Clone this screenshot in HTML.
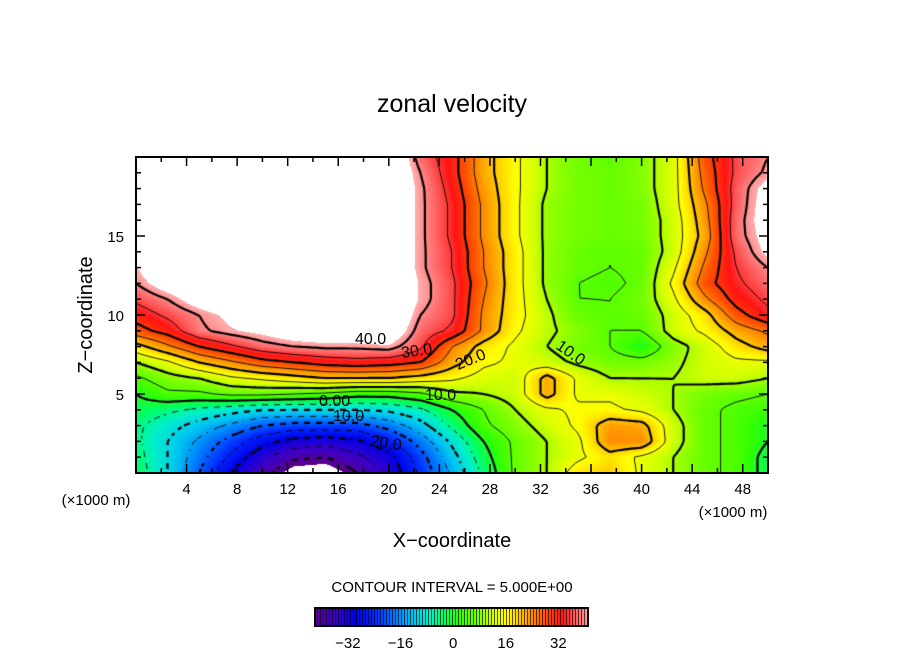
<!DOCTYPE html>
<html><head><meta charset="utf-8"><style>
html,body{margin:0;padding:0;background:#fff;}
#wrap{position:relative;width:904px;height:654px;overflow:hidden;font-family:"Liberation Sans",sans-serif;}
canvas{position:absolute;left:136px;top:157px;}
svg{position:absolute;left:0;top:0;}
</style></head><body>
<div id="wrap">
<canvas id="field" width="632" height="316"></canvas>
<svg id="ax" width="904" height="654">
<text x="452" y="112" font-size="25" text-anchor="middle">zonal velocity</text>
<text x="452" y="547" font-size="20" text-anchor="middle">X−coordinate</text>
<text transform="translate(92,315) rotate(-90)" font-size="20" text-anchor="middle">Z−coordinate</text>
<text x="96" y="505" font-size="15" text-anchor="middle">(×1000 m)</text>
<text x="733" y="517" font-size="15" text-anchor="middle">(×1000 m)</text>
<text x="452" y="592" font-size="15" text-anchor="middle">CONTOUR INTERVAL = 5.000E+00</text>
<g id="clabels" font-size="16" fill="#000">
<text x="355" y="344">40.0</text>
<text x="402" y="358" transform="rotate(-8 402 358)">30.0</text>
<text x="458" y="370" transform="rotate(-22 458 370)">20.0</text>
<text x="425" y="400">10.0</text>
<text x="319" y="406">0.00</text>
<text x="333" y="421">10.0</text>
<text x="370" y="446" transform="rotate(8 370 446)">20.0</text>
<text x="555" y="348" transform="rotate(35 555 348)">10.0</text>
</g>
</svg>
</div>
<script>
const uRows = [
[50,50,50,50,50,50,50,50,50,38,32,22,16,10,7,5,8,13,28,36,40],
[50,50,50,50,50,50,50,50,50,40,32,22,16,10,7,6,8,13,27,36,41],
[50,50,50,50,50,50,50,50,50,41,33,23,16,10,7,6,8,13,26,37,45],
[50,50,50,50,50,50,50,50,50,41,34,24,16,9,7,6,7,13,24,37,46],
[50,50,50,50,50,50,50,50,50,41,34,24,16,9,7,6,7,12,23,38,46],
[50,50,50,50,50,50,50,50,50,41,34,24,16,9,7,6,7,12,22,38,45],
[50,50,50,50,50,50,50,50,50,41,35,25,17,9,6,5,6,12,24,36,44],
[42,50,50,50,50,50,50,50,50,41,35,25,17,9,6,5,6,14,26,35,40],
[40,46,50,50,50,50,50,50,50,42,36,26,17,9,5,4,6,16,28,34,38],
[36,40,46,50,50,50,50,50,50,42,36,25,17,10,5,5,7,14,24,32,36],
[32,36,40,44,47,50,50,50,50,40,36,24,17,11,6,5,6,12,18,28,34],
[28,32,39,42,44,47,48,48,48,38,34,24,16,11,8,5,5,12,16,22,26],
[18,24,30,34,38,40,41,41,42,36,25,18,14,10,7,5,0,8,12,18,22],
[10,14,20,24,28,30,32,33,32,30,22,16,14,12,9,7,7,9,12,14,14],
[4,8,10,14,16,18,20,20,20,18,16,13,12,22,14,10,10,10,12,12,10],
[0,4,4,6,6,5,4,2,2,4,9,10,12,22,14,14,12,10,7,6,5],
[-2,-4,-6,-8,-10,-10,-10,-10,-9,-6,0,5,10,14,16,16,14,10,6,4,3],
[-4,-8,-12,-16,-20,-22,-22,-22,-18,-12,-4,4,8,12,16,23,22,12,6,4,0],
[-4,-10,-16,-22,-28,-32,-33,-31,-26,-18,-9,0,6,10,14,24,24,12,6,4,0],
[-3,-10,-18,-26,-34,-39,-40,-36,-32,-22,-12,-2,6,10,14,18,14,10,6,4,-2],
[-2,-10,-20,-30,-38,-45,-46,-40,-34,-24,-14,-4,6,10,18,20,14,10,6,4,-2]
];
const xTicks = [4,8,12,16,20,24,28,32,36,40,44,48];
const zTicks = [5,10,15];
const cbTicks = [-32,-16,0,16,32];
const levels = [-40,-35,-30,-25,-20,-15,-10,-5,0,5,10,15,20,25,30,35,40];

const X0=136,Y0=157,W=632,H=316,XMAX=50,ZMAX=20,DX=2.5,DZ=1;
function sx(x){return X0+x*W/XMAX;}
function sy(z){return Y0+H-z*H/ZMAX;}
const nCols=uRows[0].length,nRows=uRows.length;
function val(x,z){
  let fx=x/DX, fr=(ZMAX-z)/DZ;
  fx=Math.max(0,Math.min(nCols-1.0001,fx)); fr=Math.max(0,Math.min(nRows-1.0001,fr));
  const i=Math.floor(fx),j=Math.floor(fr),a=fx-i,b=fr-j;
  return uRows[j][i]*(1-a)*(1-b)+uRows[j][i+1]*a*(1-b)+uRows[j+1][i]*(1-a)*b+uRows[j+1][i+1]*a*b;
}
const stops=[[-42,[90,0,140]],[-36,[60,0,200]],[-30,[0,0,230]],[-24,[0,40,255]],[-18,[0,120,255]],[-12,[0,200,240]],[-7,[0,240,200]],[-3,[0,255,100]],[2,[50,255,0]],[8,[130,255,0]],[12,[210,255,0]],[16,[255,255,0]],[20,[255,200,0]],[24,[255,140,0]],[28,[255,80,0]],[33,[255,20,20]],[37,[255,90,90]],[42,[255,170,170]]];
function cmap(v){
  if(v>42.5||v<-42.5) return [255,255,255];
  if(v<=stops[0][0]) return stops[0][1];
  for(let k=1;k<stops.length;k++){ if(v<=stops[k][0]){const t=(v-stops[k-1][0])/(stops[k][0]-stops[k-1][0]);const c0=stops[k-1][1],c1=stops[k][1];return [0,1,2].map(q=>Math.round(c0[q]+(c1[q]-c0[q])*t));}}
  return stops[stops.length-1][1];
}
const cv=document.getElementById('field'),ctx=cv.getContext('2d');
const img=ctx.createImageData(W,H);
for(let py=0;py<H;py++)for(let px=0;px<W;px++){
  const v=val((px+0.5)*XMAX/W,ZMAX-(py+0.5)*ZMAX/H);const c=cmap(v);const o=(py*W+px)*4;
  img.data[o]=c[0];img.data[o+1]=c[1];img.data[o+2]=c[2];img.data[o+3]=255;}
ctx.putImageData(img,0,0);
// contours (marching squares)
const S=3,nx=Math.ceil(W/S)+1,ny=Math.ceil(H/S)+1;const G=[];
for(let j=0;j<ny;j++){G.push([]);for(let i=0;i<nx;i++)G[j].push(val(Math.min(W,i*S)*XMAX/W,ZMAX-Math.min(H,j*S)*ZMAX/H));}
levels.forEach(L=>{
  ctx.beginPath();
  for(let j=0;j<ny-1;j++)for(let i=0;i<nx-1;i++){
    if(L<0 && ((Math.floor(i/2)+Math.floor(j/2))%2===1)) continue;
    const v=[G[j][i],G[j][i+1],G[j+1][i+1],G[j+1][i]];
    const p=[[i*S,j*S],[(i+1)*S,j*S],[(i+1)*S,(j+1)*S],[i*S,(j+1)*S]];
    const pts=[];
    for(let e=0;e<4;e++){const a=v[e],b=v[(e+1)%4];if((a<L)!==(b<L)){const t=(L-a)/(b-a);const A=p[e],B=p[(e+1)%4];pts.push([A[0]+(B[0]-A[0])*t,A[1]+(B[1]-A[1])*t]);}}
    for(let k=0;k+1<pts.length;k+=2){ctx.moveTo(pts[k][0],pts[k][1]);ctx.lineTo(pts[k+1][0],pts[k+1][1]);}
  }
  ctx.strokeStyle='#000';ctx.lineWidth=(L%10===0)?2.2:0.9;ctx.lineCap='butt';
  ctx.stroke();
});
// axes
const NS='http://www.w3.org/2000/svg',svg=document.getElementById('ax');
function mk(tag,attrs){const e=document.createElementNS(NS,tag);for(const k in attrs)e.setAttribute(k,attrs[k]);svg.appendChild(e);return e;}
const frame=mk('rect',{x:X0,y:Y0,width:W,height:H,fill:'none',stroke:'#000','stroke-width':2});


for(let x=2;x<XMAX;x+=2){const len=(x%4===0)?9:5;
  const t1=mk('line',{x1:sx(x),x2:sx(x),y1:Y0+H,y2:Y0+H-len,stroke:'#000','stroke-width':1.5});
  
  
  const t2=mk('line',{x1:sx(x),x2:sx(x),y1:Y0,y2:Y0+len,stroke:'#000','stroke-width':1.5});
  
  }
for(let z=1;z<ZMAX;z++){const len=(z%5===0)?9:5;
  const t1=mk('line',{x1:X0,x2:X0+len,y1:sy(z),y2:sy(z),stroke:'#000','stroke-width':1.5});
  
  
  const t2=mk('line',{x1:X0+W,x2:X0+W-len,y1:sy(z),y2:sy(z),stroke:'#000','stroke-width':1.5});
  
  }
xTicks.forEach(x=>{const t=mk('text',{x:sx(x),y:494,'font-size':15,'text-anchor':'middle'});t.textContent=x;
  
  });
zTicks.forEach(z=>{const t=mk('text',{x:124,y:sy(z)+6,'font-size':15,'text-anchor':'end'});t.textContent=z;
  
  });
// colorbar
const CB0=315,CB1=588,CBY=608,CBH=18,VMIN=-42,VMAX=41;
function cbx(v){return CB0+(v-VMIN)/(VMAX-VMIN)*(CB1-CB0);}
const cbg=mk('g',{});


for(let px=CB0;px<CB1;px++){const v=VMIN+(px-CB0+0.5)/(CB1-CB0)*(VMAX-VMIN);let c=cmap(Math.max(-42,Math.min(41.9,v)));
  if((px-CB0)%3===2)c=c.map(q=>Math.round(q*0.35));
  const r=document.createElementNS(NS,'rect');r.setAttribute('x',px);r.setAttribute('y',CBY);r.setAttribute('width',1.05);r.setAttribute('height',CBH);r.setAttribute('fill','rgb('+c.join(',')+')');cbg.appendChild(r);}
const cbf=mk('rect',{x:CB0,y:CBY,width:CB1-CB0,height:CBH,fill:'none',stroke:'#000','stroke-width':2});


cbTicks.forEach(v=>{const t=mk('text',{x:cbx(v),y:648,'font-size':15,'text-anchor':'middle'});t.textContent=(v<0?'−':'')+Math.abs(v);
  
  });
svg.appendChild(document.getElementById('clabels'));
</script>
</body></html>
